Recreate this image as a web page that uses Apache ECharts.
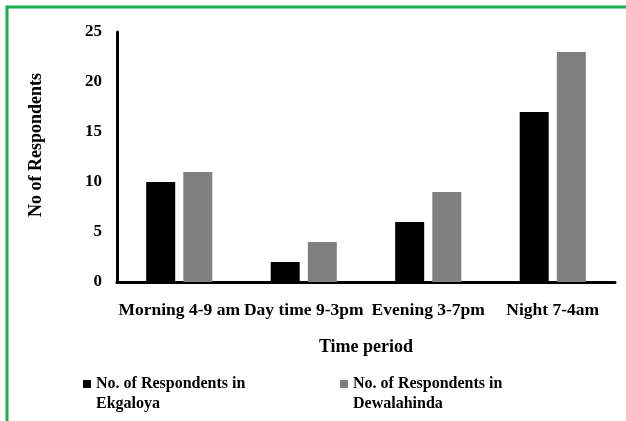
<!DOCTYPE html>
<html>
<head>
<meta charset="utf-8">
<script src="https://cdn.jsdelivr.net/npm/echarts@6/dist/echarts.min.js"></script>
<style>html,body{margin:0;padding:0;background:#fff;}#c{width:626px;height:421px;}</style>
</head>
<body>
<div id="c"></div>
<script>
var categories = ['Morning 4-9 am', 'Day time 9-3pm', 'Evening 3-7pm', 'Night 7-4am'];
var ekgaloya = [10, 2, 6, 17];
var dewalahinda = [11, 4, 9, 23];
var seriesNames = ['No. of Respondents in\nEkgaloya', 'No. of Respondents in\nDewalahinda'];

var FONT = '"Liberation Serif", "Times New Roman", serif';
var chart = echarts.init(document.getElementById('c'));
var legendText = {fontFamily: FONT, fontWeight: 'bold', fontSize: 16, color: '#000', lineHeight: 20};
function legendFmt(n) { return ' \n' + n; }
chart.setOption({
  animation: false,
  backgroundColor: '#fff',
  grid: {left: 117, right: 11, top: 32, bottom: 139},
  legend: [
    {data: [seriesNames[0]], left: 83, top: 354, padding: 0, itemWidth: 8, itemHeight: 8, icon: 'rect', formatter: legendFmt, textStyle: legendText},
    {data: [seriesNames[1]], left: 340, top: 354, padding: 0, itemWidth: 8, itemHeight: 8, icon: 'rect', formatter: legendFmt, textStyle: legendText}
  ],
  xAxis: {
    type: 'category',
    data: categories,
    name: 'Time period',
    nameLocation: 'middle',
    nameGap: 56,
    nameTextStyle: {fontFamily: FONT, fontWeight: 'bold', fontSize: 18, color: '#000'},
    axisLine: {lineStyle: {color: '#000', width: 3}},
    axisTick: {show: false},
    axisLabel: {fontFamily: FONT, fontWeight: 'bold', fontSize: 17.5, color: '#000', margin: 19, interval: 0}
  },
  yAxis: {
    type: 'value',
    min: 0, max: 25, interval: 5,
    name: 'No of Respondents',
    nameLocation: 'middle',
    nameGap: 72,
    nameTextStyle: {fontFamily: FONT, fontWeight: 'bold', fontSize: 18, color: '#000', padding: [0, 0, 0, 24]},
    axisLine: {show: true, lineStyle: {color: '#000', width: 3}},
    axisTick: {show: false},
    splitLine: {show: false},
    axisLabel: {fontFamily: FONT, fontWeight: 'bold', fontSize: 17, color: '#000', margin: 15}
  },
  series: [
    {name: seriesNames[0], type: 'bar', data: ekgaloya, barWidth: 29, barGap: '28%', itemStyle: {color: '#000'}},
    {name: seriesNames[1], type: 'bar', data: dewalahinda, barWidth: 29, itemStyle: {color: '#808080'}}
  ],
  graphic: [{
    type: 'polyline',
    shape: {points: [[7, 421], [7, 7], [626, 7]]},
    style: {stroke: '#1aae4d', lineWidth: 3, fill: null}
  }]
});
</script>
</body>
</html>
